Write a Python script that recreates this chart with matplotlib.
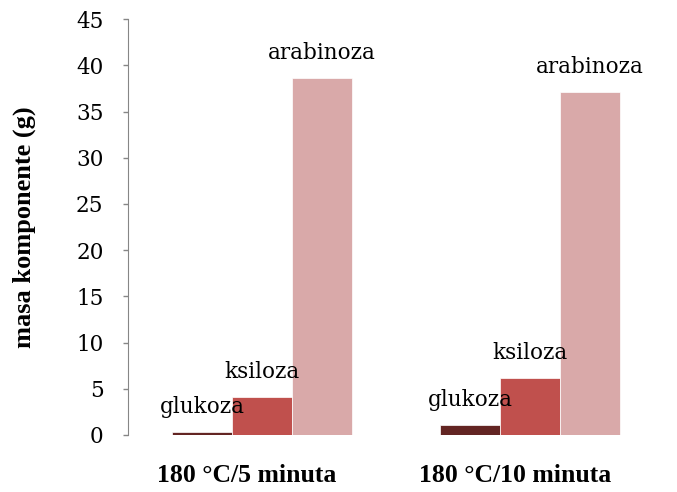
import matplotlib
matplotlib.use("Agg")
import matplotlib.pyplot as plt
import matplotlib.transforms as mtransforms
import numpy as np

categories = ["180 °C/5 minuta", "180 °C/10 minuta"]
series_names = ["glukoza", "ksiloza", "arabinoza"]
glukoza = [0.3, 1.1]
ksiloza = [4.1, 6.2]
arabinoza = [38.6, 37.1]
yticks = [0, 5, 10, 15, 20, 25, 30, 35, 40, 45]

colors = ["#632523", "#C0504D", "#D9A9A9"]
plt.rcParams['font.family'] = ['DejaVu Serif']

fig = plt.figure(figsize=(6.77, 4.92), dpi=100)
ax = fig.add_axes([0.189, 0.116, 0.792, 0.845])

x = np.arange(len(categories))
w = 0.223
data = [glukoza, ksiloza, arabinoza]
for i, (name, vals) in enumerate(zip(series_names, data)):
    pos = x + (i - 1) * w
    ax.bar(pos, vals, width=w, color=colors[i], edgecolor='white', linewidth=0.5)
    for p, v in zip(pos, vals):
        ax.annotate(name, (p, v), xytext=(0, 18), textcoords='offset points',
                    ha='center', va='center', fontsize=15.5)

ax.set_xlim(-0.5, 1.5)
ax.set_ylim(0, 45)
ax.set_yticks(yticks)
ax.set_yticklabels([str(t) for t in yticks], fontsize=15.5)
ax.set_xticks(x)
ax.set_xticklabels(categories, fontsize=18.5, fontweight='bold',
                   family=['Liberation Serif', 'DejaVu Serif'])
ax.tick_params(axis='x', length=0, pad=21)
ax.tick_params(axis='y', length=3.6, color='#868686', width=1, pad=14)
shift = mtransforms.ScaledTranslation(-15 / 100, 0, fig.dpi_scale_trans)
for lbl in ax.get_xticklabels():
    lbl.set_transform(lbl.get_transform() + shift)
for s in ['top', 'right', 'bottom']:
    ax.spines[s].set_visible(False)
ax.spines['left'].set_color('#868686')
ax.set_ylabel("masa komponente (g)", fontsize=19, fontweight='bold',
              family=['Liberation Serif', 'DejaVu Serif'])
ax.yaxis.set_label_coords(-0.172, 0.5)

fig.savefig("out.png", dpi=100)
